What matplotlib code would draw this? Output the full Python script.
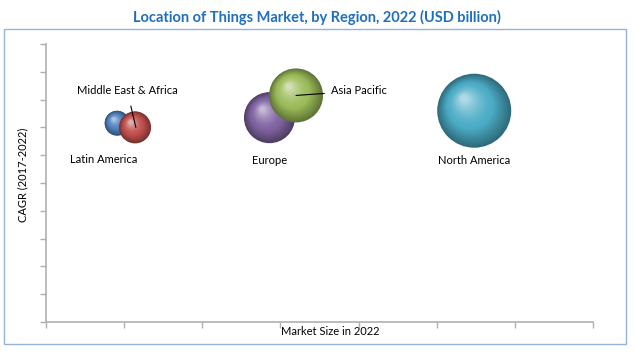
import numpy as np
import matplotlib
matplotlib.use("Agg")
import matplotlib.pyplot as plt
import matplotlib.transforms as mtransforms
from matplotlib.patches import Rectangle
from matplotlib.colors import to_rgb

plt.rcParams['font.family'] = ['Lato', 'DejaVu Sans']

regions = ["Latin America", "Middle East & Africa", "Europe", "Asia Pacific", "North America"]
market_size = [0.91, 1.14, 2.86, 3.20, 5.48]   # x position (relative units)
cagr = [7.15, 7.0, 7.35, 8.15, 7.6]            # y position (relative units)
bubble = [12.5, 16, 25.5, 27, 37]              # bubble radius (relative)
colors = ["#4f81bd", "#c0504d", "#8064a2", "#9bbb59", "#4bacc6"]

fig = plt.figure(figsize=(6.34, 3.53), dpi=100)
ax = fig.add_axes([46/634, 1-322/353, (593-46)/634, (322-44)/353])
ax.set_xlim(0, 7)
ax.set_ylim(0, 10)

# outer frame
fig.patches.append(Rectangle((4/634, 1-344/353), 622/634, 315/353, transform=fig.transFigure,
                             fill=False, edgecolor="#95b3d7", linewidth=1.0))

fig.text(0.5, 1-17/353, "Location of Things Market, by Region, 2022 (USD billion)",
         ha="center", va="center", fontsize=10.5, fontweight="bold", color="#1f6fbf")


def shade(c, t):
    c = np.array(to_rgb(c))
    if t < 0.4:
        k = t / 0.4
        return c * (0.62 + 0.38 * k)
    k = (t - 0.4) / 0.6
    return c + (1 - c) * 0.6 * k ** 1.5


# 3d-looking bubbles: stacked circles moving toward a highlight
n = 30
for i in range(len(regions)):
    r_pt = bubble[i] * 0.72
    for k in range(n):
        t = k / n
        rr = r_pt * (1 - 0.93 * t)
        off = mtransforms.ScaledTranslation(-0.28 * r_pt * t / 72, 0.34 * r_pt * t / 72,
                                            fig.dpi_scale_trans)
        ax.scatter(market_size[i], cagr[i], s=(2 * rr) ** 2, color=shade(colors[i], t),
                   edgecolors="none", transform=ax.transData + off, zorder=2 + i * 0.1 + 0.001 * k)

# labels
fs = 8
ax.text(0.74, 5.86, "Latin America", ha="center", va="center", fontsize=fs)
ax.text(2.86, 5.8, "Europe", ha="center", va="center", fontsize=fs)
ax.text(5.48, 5.8, "North America", ha="center", va="center", fontsize=fs)
ax.annotate("Middle East & Africa", xy=(1.15, 7.0), xytext=(1.04, 8.31),
            ha="center", va="center", fontsize=fs,
            arrowprops=dict(arrowstyle="-", color="black", lw=0.8, shrinkA=5, shrinkB=0))
ax.annotate("Asia Pacific", xy=(3.20, 8.15), xytext=(3.65, 8.31),
            ha="left", va="center", fontsize=fs,
            arrowprops=dict(arrowstyle="-", color="black", lw=0.8, shrinkA=3, shrinkB=0))

# axes styling
for s in ["top", "right"]:
    ax.spines[s].set_visible(False)
for s in ["left", "bottom"]:
    ax.spines[s].set_color("#b0b0b0")
    ax.spines[s].set_linewidth(1.2)
ax.set_xticks(np.arange(0, 8))
ax.set_yticks(np.arange(0, 11))
ax.tick_params(colors="#b0b0b0", length=4, width=1, labelleft=False, labelbottom=False)
ax.set_xlabel("Market Size in 2022", fontsize=8)
ax.set_ylabel("CAGR (2017-2022)", fontsize=8)
ax.xaxis.set_label_coords((330 - 46) / 547, -9.5 / 278)
ax.yaxis.set_label_coords(-23 / 547, (322 - 175) / 278)
ax.xaxis.label.set_va("center")
ax.yaxis.label.set_va("center")

fig.savefig("out.png", dpi=100)
